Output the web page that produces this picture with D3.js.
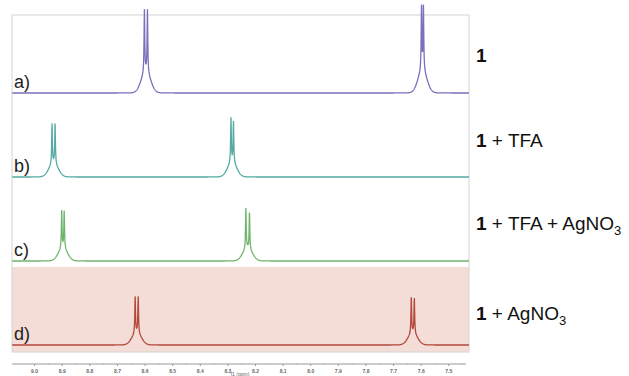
<!DOCTYPE html>
<html>
<head>
<meta charset="utf-8">
<script src="https://cdn.jsdelivr.net/npm/d3@7"></script>
<style>
  body { margin: 0; background: #fff; }
  svg { display: block; font-family: 'Liberation Sans', Arial, sans-serif; }
</style>
</head>
<body>
<div id="chart"></div>
<script>
// panels, top to bottom
const panelKeys = ['a', 'b', 'c', 'd'];
const panelTags = ['a)', 'b)', 'c)', 'd)'];
const sampleMain = ['', ' + TFA', ' + TFA + AgNO', ' + AgNO'];
const sampleSub = ['', '', '3', '3'];
const lineColors = ['#7a70bc', '#55aaa3', '#70b56d', '#b4483d'];

// peak lists: [ppm, intensity]
const peaksA = [[8.6005, 100], [8.5895, 100], [7.597, 102], [7.590, 102]];
const peaksB = [[8.935, 64], [8.924, 64], [8.287, 71], [8.278, 65]];
const peaksC = [[8.900, 60], [8.891, 59], [8.233, 65], [8.220, 58]];
const peaksD = [[8.634, 58], [8.623, 58], [7.634, 57], [7.623, 56]];
const peakLists = [peaksA, peaksB, peaksC, peaksD];

const tickValues = [9.0, 8.9, 8.8, 8.7, 8.6, 8.5, 8.4, 8.3, 8.2, 8.1, 8.0, 7.9, 7.8, 7.7, 7.6, 7.5];
const minorTicks = [8.95, 8.85, 8.75, 8.65, 8.55, 8.45, 8.35, 8.25, 8.15, 8.05, 7.95, 7.85, 7.75, 7.65, 7.55, 7.45];

const width = 629;
const height = 376;
const frame = { left: 12, right: 469, top: 15, bottom: 352 };

// line shape: sharp lorentzian plus a small gaussian foot
const LW = 0.00145;
const FOOT_S = 0.0156;
const FOOT_F = 0.15;

const svg = d3.select('#chart')
  .append('svg')
  .attr('width', width)
  .attr('height', height);

const x = d3.scaleLinear()
  .domain([9.08, 7.425])
  .range([frame.left, frame.right]);

const base = d3.scalePoint()
  .domain(panelKeys)
  .range([93, 345]);

const h = d3.scaleLinear()
  .domain([0, 100])
  .range([0, 74]);

// pink band behind d)
svg.append('rect')
  .attr('x', frame.left)
  .attr('y', 267)
  .attr('width', frame.right - frame.left)
  .attr('height', frame.bottom - 267)
  .attr('fill', '#f3ddd6');

svg.append('rect')
  .attr('x', frame.left)
  .attr('y', frame.top)
  .attr('width', frame.right - frame.left)
  .attr('height', frame.bottom - frame.top)
  .attr('fill', 'none')
  .attr('stroke', '#d4d4d4')
  .attr('stroke-width', 1);

const spectrum = (peaks) => {
  const step = (x.domain()[0] - x.domain()[1]) / ((frame.right - frame.left) * 5);
  const pts = d3.range(x.domain()[1], x.domain()[0], step)
    .concat(peaks.map(p => p[0]))
    .sort((a, b) => b - a);
  return pts.map(v => {
    let s = 0;
    for (const [c, amp] of peaks) {
      const d = v - c;
      s += amp * ((1 - FOOT_F) * LW * LW / (d * d + LW * LW) +
        FOOT_F * Math.exp(-d * d / (2 * FOOT_S * FOOT_S)));
    }
    return [v, s];
  });
};

panelKeys.forEach((key, i) => {
  const line = d3.line()
    .x(d => x(d[0]))
    .y(d => base(key) - h(d[1]));

  svg.append('path')
    .datum(spectrum(peakLists[i]))
    .attr('fill', 'none')
    .attr('stroke', lineColors[i])
    .attr('stroke-width', 1.3)
    .attr('d', line);

  svg.append('text')
    .attr('x', 14)
    .attr('y', base(key) - 5)
    .attr('font-size', 18)
    .attr('fill', '#222')
    .text(panelTags[i]);

  const label = svg.append('text')
    .attr('x', 476)
    .attr('y', [62, 147, 230, 320][i])
    .attr('font-size', 19)
    .attr('fill', '#111');
  label.append('tspan').attr('font-weight', 'bold').text('1');
  label.append('tspan').text(sampleMain[i]);
  if (sampleSub[i]) {
    label.append('tspan')
      .attr('font-size', 13)
      .attr('dy', 5)
      .text(sampleSub[i]);
  }
});

// ppm axis
const axis = svg.append('g')
  .attr('transform', 'translate(0,364)')
  .call(d3.axisBottom(x)
    .tickValues(tickValues)
    .tickSizeOuter(0)
    .tickSize(2)
    .tickPadding(3)
    .tickFormat(d3.format('.1f')));
axis.select('.domain').attr('stroke', '#999').attr('d', `M${frame.left},0H466`);
axis.selectAll('.tick line').attr('stroke', '#999');
axis.selectAll('.tick text')
  .attr('font-size', 5)
  .attr('font-weight', 'bold')
  .attr('fill', '#666');

svg.append('g')
  .attr('transform', 'translate(0,364)')
  .call(d3.axisBottom(x).tickValues(minorTicks).tickSize(1).tickFormat(''))
  .call(g => g.select('.domain').remove())
  .selectAll('line').attr('stroke', '#aaa');

svg.append('text')
  .attr('x', 240)
  .attr('y', 376)
  .attr('text-anchor', 'middle')
  .attr('font-size', 5)
  .attr('fill', '#666')
  .text('f1 (ppm)');
</script>
</body>
</html>
